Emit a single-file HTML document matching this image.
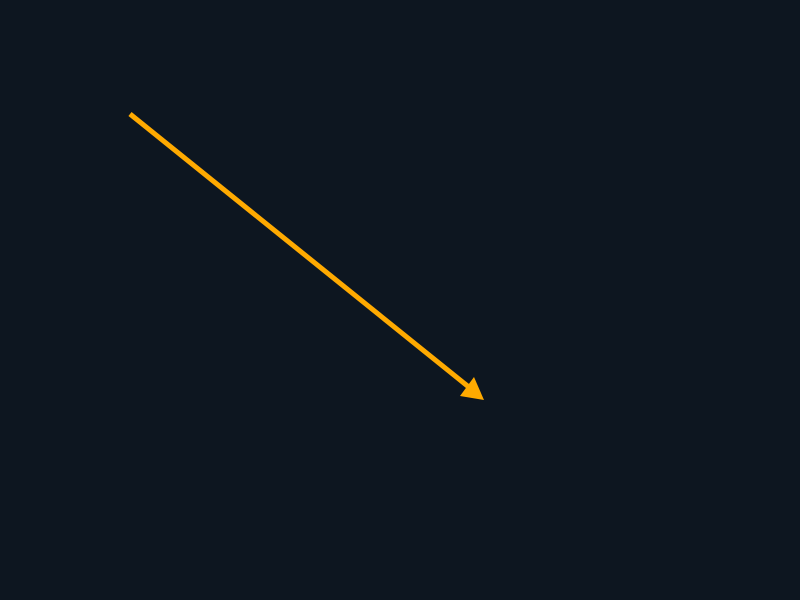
<!DOCTYPE html>
<html>
<head>
<meta charset="utf-8">
<style>
  html, body { margin: 0; padding: 0; background: #0d1620; }
  svg { display: block; }
</style>
</head>
<body>
<svg width="800" height="600" viewBox="0 0 800 600">
  <rect x="0" y="0" width="800" height="600" fill="#0d1620"/>
  <line x1="130" y1="114" x2="470" y2="388" stroke="#ffaa00" stroke-width="5"/>
  <polygon points="484,400 460,396 474,377" fill="#ffaa00"/>
</svg>
</body>
</html>
